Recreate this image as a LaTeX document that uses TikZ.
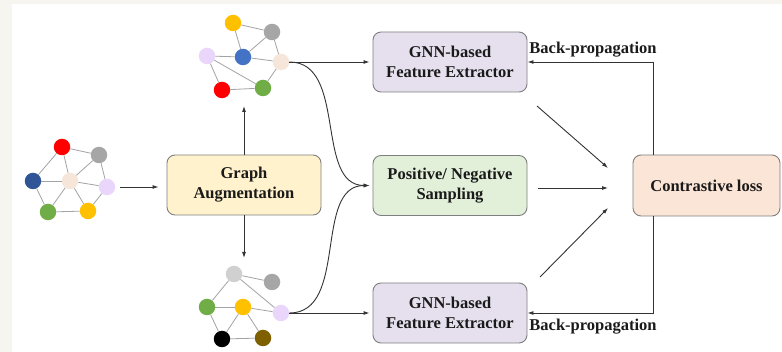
\documentclass[tikz,border=0pt]{standalone}
\usepackage{fontspec}
\setmainfont{Liberation Serif}
\usetikzlibrary{arrows.meta}
\definecolor{bgbeige}{HTML}{F7F5F0}
\definecolor{edgegray}{HTML}{A3A3A3}
\definecolor{boxborder}{HTML}{7F7F7F}
\definecolor{txt}{HTML}{1A1A1A}
\definecolor{linec}{HTML}{333333}
\definecolor{cred}{HTML}{FF0000}
\definecolor{cgray}{HTML}{A6A6A6}
\definecolor{clgray}{HTML}{D0D0D0}
\definecolor{cdblue}{HTML}{2F5597}
\definecolor{cblue}{HTML}{4472C4}
\definecolor{cbeige}{HTML}{F6E6DA}
\definecolor{clilac}{HTML}{E9D6FA}
\definecolor{cgreen}{HTML}{70AD47}
\definecolor{cyellow}{HTML}{FFC000}
\definecolor{cbrown}{HTML}{7F6000}
\definecolor{fillga}{HTML}{FFF2CC}
\definecolor{fillgnn}{HTML}{E6E0EE}
\definecolor{fillps}{HTML}{E2F0D9}
\definecolor{fillcl}{HTML}{FBE5D6}
\begin{document}
\begin{tikzpicture}[x=1pt,y=-1pt,
  gn/.style={circle,inner sep=0pt,minimum size=16.5pt},
  ge/.style={draw=edgegray,line width=0.8pt},
  box/.style={draw=boxborder,line width=0.9pt,rounded corners=8pt,minimum width=154pt,minimum height=60pt,align=center,inner sep=0pt,font=\fontsize{16.5}{20}\selectfont\bfseries,text=txt},
  arr/.style={draw=linec,line width=0.9pt,-{Latex[length=6pt,width=4pt]}},
  lab/.style={font=\fontsize{16.5}{20}\selectfont\bfseries,text=txt,inner sep=0pt}]
\useasboundingbox (0,0) rectangle (782,352);
\fill[bgbeige] (0,0) rectangle (782,352);
\fill[white] (12,4) rectangle (782,352);

% original graph
\node[gn,fill=cred]    (o1) at (62,147) {};
\node[gn,fill=cgray]   (o2) at (99,155) {};
\node[gn,fill=cdblue]  (o3) at (33,181) {};
\node[gn,fill=cbeige]  (o4) at (70,181) {};
\node[gn,fill=clilac]  (o5) at (107,187) {};
\node[gn,fill=cgreen]  (o6) at (48,212) {};
\node[gn,fill=cyellow] (o7) at (88,211) {};
\foreach \a/\b in {o1/o2,o1/o3,o1/o4,o2/o4,o2/o5,o3/o4,o3/o6,o4/o5,o4/o6,o4/o7,o5/o7,o6/o7}
  \draw[ge] (\a) -- (\b);

% top augmented graph
\node[gn,fill=cyellow] (t1) at (233,23) {};
\node[gn,fill=cgray]   (t2) at (272,32) {};
\node[gn,fill=clilac]  (t3) at (207,56) {};
\node[gn,fill=cblue]   (t4) at (243,57) {};
\node[gn,fill=cbeige]  (t5) at (281,62) {};
\node[gn,fill=cred]    (t6) at (222,90) {};
\node[gn,fill=cgreen]  (t7) at (263,88) {};
\foreach \a/\b in {t1/t2,t1/t4,t2/t4,t2/t5,t3/t4,t3/t6,t3/t7,t4/t5,t5/t7,t6/t7}
  \draw[ge] (\a) -- (\b);

% bottom augmented graph
\node[gn,fill=clgray]  (b1) at (234,274) {};
\node[gn,fill=cgray]   (b2) at (272,282) {};
\node[gn,fill=cgreen]  (b3) at (207,307) {};
\node[gn,fill=cyellow] (b4) at (243,307) {};
\node[gn,fill=clilac]  (b5) at (281,313) {};
\node[gn,fill=black]   (b6) at (222,339) {};
\node[gn,fill=cbrown]  (b7) at (263,338) {};
\foreach \a/\b in {b1/b2,b1/b3,b1/b5,b3/b4,b4/b5,b3/b6,b4/b6,b4/b7,b6/b7}
  \draw[ge] (\a) -- (\b);

% boxes
\node[box,fill=fillga]  (ga) at (244,185) {Graph\\Augmentation};
\node[box,fill=fillgnn] (g1) at (450,62) {GNN-based\\Feature Extractor};
\node[box,fill=fillps]  (ps) at (450,185.5) {Positive/ Negative\\Sampling};
\node[box,fill=fillgnn] (g2) at (450,313) {GNN-based\\Feature Extractor};
\node[box,fill=fillcl,minimum width=147pt,minimum height=61pt] (cl) at (706.5,185.5) {Contrastive loss};

% connectors
\draw[arr,shorten <=5pt,shorten >=8pt] (o5.east) -- (ga.west |- o5);
\coordinate (upTip) at (244,106);
\coordinate (dnTip) at (244,258);
\draw[arr] (ga.north) -- (upTip);
\draw[arr] (ga.south) -- (dnTip);

\draw[arr,shorten >=3pt] (t5.east) -- (g1.west);
\draw[arr,shorten >=3pt] (t5.east) to[out=0,in=180] (ps.west);
\draw[arr,shorten >=3pt] (b5.east) -- (g2.west);
\draw[arr,shorten >=3pt] (b5.east) to[out=0,in=180] (ps.west);

\coordinate (d1s) at (537,106); \coordinate (d1e) at (608,168);
\coordinate (d2s) at (538,188); \coordinate (d2e) at (608,188);
\coordinate (d3s) at (540,277); \coordinate (d3e) at (608,208);
\draw[arr] (d1s) -- (d1e);
\draw[arr] (d2s) -- (d2e);
\draw[arr] (d3s) -- (d3e);

\draw[arr] ([xshift=-53.5pt]cl.north) |- (g1.east);
\draw[arr] ([xshift=-53.5pt]cl.south) |- (g2.east);
\node[lab] (bp1) at (593,50) {Back-propagation};
\node[lab] (bp2) at (593,327) {Back-propagation};
\end{tikzpicture}
\end{document}
